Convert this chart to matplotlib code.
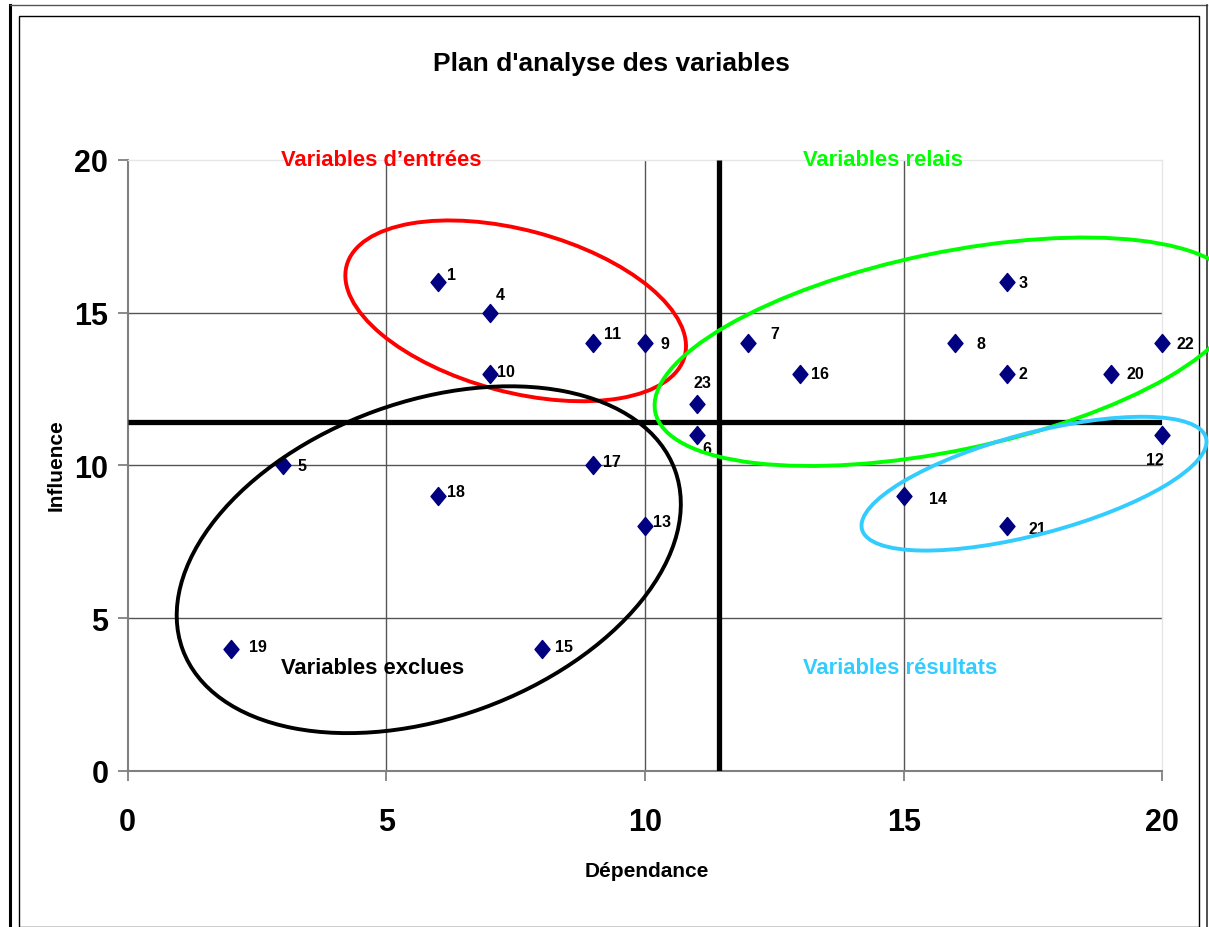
import matplotlib
matplotlib.use("Agg")
import matplotlib.pyplot as plt
from matplotlib.patches import Ellipse, Rectangle
from matplotlib.path import Path
from matplotlib.lines import Line2D
from matplotlib.transforms import ScaledTranslation

plt.rcParams['font.family'] = ['Liberation Sans', 'DejaVu Sans']

# --- data -------------------------------------------------------------
variables = [str(i) for i in range(1, 24)]
dependance = [6, 17, 17, 7, 3, 11, 12, 16, 10, 7, 9, 20, 10, 15, 8, 13, 9, 6, 2, 19, 17, 20, 11]
influence = [16, 13, 16, 15, 10, 11, 14, 14, 14, 13, 14, 11, 8, 9, 4, 13, 10, 9, 4, 13, 8, 14, 12]
seuil = 11.43

x_ticks = [0, 5, 10, 15, 20]
y_ticks = [0, 5, 10, 15, 20]

# quadrant captions: text, x, y, colour
quadrants = [
    ("Variables d\u2019entrées", 2.97, 20, "#FF0000"),
    ("Variables relais", 13.05, 20, "#00FF00"),
    ("Variables exclues", 2.97, 3.37, "#000000"),
    ("Variables résultats", 13.05, 3.37, "#33CCFF"),
]

# hand-drawn groupings: centre (data), width/height (px), angle (deg), colour
groups = [
    ((7.50, 15.06), 350, 162, -15.0, "#FF0000"),
    ((5.82, 6.91), 524, 316, 20.0, "#000000"),
    ((15.84, 13.72), 596, 198, 11.7, "#00FF00"),
    ((17.52, 9.40), 356, 101, 14.9, "#33CCFF"),
]

# label placement offsets (px, right / up)
label_offsets = {
    '1': (13, 8), '2': (16, 0), '3': (16, 0), '4': (10, 18), '5': (19, 0),
    '6': (10, -14), '7': (26, 10), '8': (26, 0), '9': (20, 0), '10': (16, 2),
    '11': (19, 10), '12': (-7, -25), '13': (17, 5), '14': (34, -3),
    '15': (22, 2), '16': (20, 0), '17': (19, 4), '18': (18, 4), '19': (27, 2),
    '20': (25, 0), '21': (30, -2), '22': (23, 0), '23': (6, 22),
}

W, H = 1209, 928
fig = plt.figure(figsize=(W / 100, H / 100), dpi=100)


def fx(px):
    return px / W


def fy(py):
    return 1 - py / H


ax = fig.add_axes([fx(127.7), fy(771.7), fx(1162.3) - fx(127.7), fy(161) - fy(771.7)])
ax.set_xlim(0, 20)
ax.set_ylim(0, 20)

# grid
for v in x_ticks[1:-1]:
    ax.axvline(v, color="#555555", lw=1.0, zorder=1)
for v in y_ticks[1:-1]:
    ax.axhline(v, color="#555555", lw=1.0, zorder=1)

for side in ("top", "right"):
    ax.spines[side].set_color("#E6E6E6")
    ax.spines[side].set_linewidth(1.0)
for side in ("left", "bottom"):
    ax.spines[side].set_color("#808080")
    ax.spines[side].set_linewidth(1.5)

ax.set_xticks(x_ticks)
ax.set_yticks(y_ticks)
ax.tick_params(axis="both", direction="out", length=7, width=1.3, color="#808080",
               labelsize=22)
ax.tick_params(axis="x", pad=19)
ax.tick_params(axis="y", pad=7)
for lab in ax.get_xticklabels() + ax.get_yticklabels():
    lab.set_fontweight("bold")

# threshold lines
ax.plot([0, 20], [seuil, seuil], color="black", lw=3.8, zorder=3, solid_capstyle="butt")
ax.plot([seuil, seuil], [0, 20], color="black", lw=3.8, zorder=3, solid_capstyle="butt")

# groupings
for (cx, cy), w, h, ang, col in groups:
    e = Ellipse((0, 0), w, h, angle=ang, fill=False, edgecolor=col, lw=2.8,
                transform=ScaledTranslation(cx, cy, ax.transData), clip_on=False, zorder=4)
    fig.add_artist(e)

# points
diamond = Path([(0, 1), (0.83, 0), (0, -1), (-0.83, 0), (0, 1)],
               [Path.MOVETO, Path.LINETO, Path.LINETO, Path.LINETO, Path.CLOSEPOLY])
ax.plot(dependance, influence, linestyle="none", marker=diamond, markersize=13,
        color="#000080", zorder=5, clip_on=False)

for name, xv, yv in zip(variables, dependance, influence):
    dx, dy = label_offsets[name]
    ax.annotate(name, (xv, yv), xytext=(dx, dy), textcoords="offset pixels",
                ha="center", va="center", fontsize=11.5, fontweight="bold",
                annotation_clip=False, zorder=6)

for text, xq, yq, col in quadrants:
    ax.text(xq, yq, text, color=col, fontsize=15.8, fontweight="bold",
            ha="left", va="center", zorder=6)

# titles
fig.text(fx(611), fy(64), "Plan d'analyse des variables", ha="center", va="center",
         fontsize=19, fontweight="bold")
fig.text(fx(647), fy(872), "Dépendance", ha="center", va="center",
         fontsize=15, fontweight="bold")
fig.text(fx(56), fy(465), "Influence", ha="center", va="center",
         fontsize=15, fontweight="bold", rotation=90)

# chart frame
fig.add_artist(Rectangle((fx(19.3), fy(927.5)), fx(1199) - fx(19.3), fy(16.7) - fy(927.5),
                         transform=fig.transFigure, fill=False, edgecolor="black", lw=1.0))
fig.add_artist(Line2D([fx(9.5), fx(9.5)], [0, fy(6)], transform=fig.transFigure,
                      color="black", lw=2.2))
fig.add_artist(Line2D([fx(9.5), fx(1207)], [fy(6), fy(6)], transform=fig.transFigure,
                      color="#555555", lw=1.0))
fig.add_artist(Line2D([fx(1207), fx(1207)], [0, fy(6)], transform=fig.transFigure,
                      color="#333333", lw=1.2))

fig.savefig("out.png", dpi=100)
